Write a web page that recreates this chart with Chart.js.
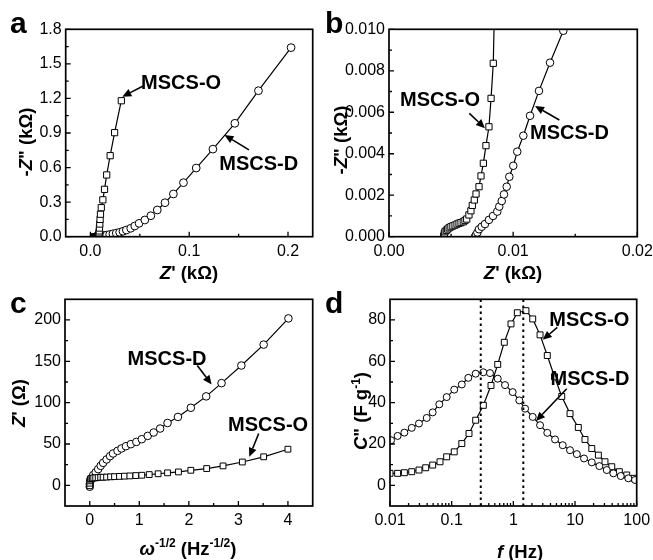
<!DOCTYPE html>
<html>
<head>
<meta charset="utf-8">
<script src="https://cdn.jsdelivr.net/npm/chart.js@4.4.0/dist/chart.umd.min.js"></script>
<style>
  body { margin: 0; background: #fff; }
  #wrap { position: relative; width: 653px; height: 560px; overflow: hidden; }
  canvas { position: absolute; }
</style>
</head>
<body>
<div id="wrap">
  <canvas id="cA" width="326" height="290" style="left:0;top:0"></canvas>
  <canvas id="cB" width="335" height="290" style="left:318px;top:0"></canvas>
  <canvas id="cC" width="326" height="280" style="left:0;top:280px"></canvas>
  <canvas id="cD" width="335" height="280" style="left:318px;top:280px"></canvas>
</div>
<script>
// Nyquist (a, b): Z' e -Z'' em kOhm
const nyqO_re = [0.00441,0.00442,0.00446,0.00451,0.00462,0.00473,0.00485,0.00499,0.00515,0.00532,0.00548,0.00564,0.00580,0.00598,0.00612,0.00626,0.00644,0.00660,0.00671,0.00687,0.00701,0.00725,0.00741,0.00760,0.00781,0.00805,0.00822,0.00840,0.0086,0.0087,0.0088,0.0090,0.0092,0.0095,0.0098,0.0102,0.0110,0.0126,0.0143,0.0165,0.0200,0.0245,0.0313];
const nyqO_im = [0,0.00004,0.00016,0.00024,0.00031,0.00037,0.00043,0.00048,0.00052,0.00056,0.00061,0.00065,0.00068,0.00072,0.00078,0.00085,0.00105,0.00125,0.00151,0.00177,0.00206,0.00241,0.00293,0.00354,0.00439,0.00530,0.00667,0.00836,0.014,0.022,0.033,0.050,0.075,0.110,0.150,0.195,0.252,0.320,0.411,0.536,0.703,0.903,1.180];
const nyqD_re = [0.00693,0.00700,0.00712,0.00725,0.00747,0.00773,0.00805,0.00838,0.00872,0.00888,0.00908,0.00926,0.00948,0.00969,0.01001,0.01033,0.01082,0.01136,0.01208,0.01297,0.01404,0.0165,0.0195,0.0228,0.0262,0.0296,0.0330,0.0364,0.0408,0.0449,0.0493,0.0551,0.0612,0.0677,0.0755,0.0840,0.0942,0.1071,0.1240,0.1462,0.1701,0.2031];
const nyqD_im = [0,0.00008,0.00020,0.00036,0.00048,0.00061,0.00081,0.00100,0.00121,0.00145,0.00172,0.00204,0.00241,0.00289,0.00342,0.00410,0.00487,0.00583,0.00703,0.00839,0.00993,0.014,0.019,0.025,0.031,0.038,0.047,0.058,0.073,0.093,0.116,0.145,0.182,0.232,0.295,0.371,0.469,0.596,0.760,0.984,1.267,1.641];

// (c): Z' (Ohm) contra w^-1/2
const warbD_w = [0,0,0.01,0.03,0.07,0.12,0.17,0.22,0.27,0.34,0.41,0.47,0.56,0.64,0.73,0.83,0.94,1.05,1.17,1.29,1.42,1.57,1.78,2.04,2.35,2.66,3.06,3.51,4.01];
const warbD_z = [-1.7,1.5,4.5,8.4,12.4,15.7,19.6,23.6,27.2,31.3,35.3,38.5,41.7,44.6,47.3,49.8,52.5,55.8,59.8,63.9,68.7,75.4,82.7,93.8,107.6,123.6,144.9,170.2,201.9];
const warbO_w = [0,0,0,0.01,0.025,0.05,0.08,0.12,0.17,0.22,0.27,0.34,0.42,0.50,0.60,0.70,0.81,0.93,1.05,1.20,1.38,1.57,1.79,2.04,2.36,2.69,3.08,3.51,4.0];
const warbO_z = [-0.5,2.6,5.4,7.4,8.2,8.6,8.9,9.1,9.4,9.7,9.8,10,10.3,10.5,10.8,11.1,11.4,11.8,12.2,13,14,15.1,16.2,18.2,20.3,23.5,28.2,34.5,43.7];

// (d): C'' (F/g) contra f (Hz)
const capD_f = [0.0104,0.0133,0.0171,0.0225,0.0295,0.0394,0.0492,0.063,0.083,0.110,0.146,0.186,0.245,0.326,0.418,0.558,0.733,0.976,1.25,1.55,2.06,2.71,3.55,4.74,6.32,8.30,10.7,14.0,18.7,24.8,32.7,41.8,55.1,73.1,93.9];
const capD_c = [21.8,23.9,25.5,27.8,29.9,32.6,35.3,39.2,42.7,46.3,48.8,52.0,54.0,54.7,54.3,51.6,48.5,45.1,41.1,37.1,33.1,29.1,25.4,22.2,19.4,17.0,15.1,13.0,11.1,9.3,7.4,5.8,4.5,3.4,2.6];
const capO_f = [0.0100,0.0133,0.0171,0.0225,0.0295,0.0379,0.0492,0.0647,0.083,0.110,0.146,0.191,0.245,0.326,0.434,0.558,0.713,0.916,1.16,1.60,2.06,2.71,3.55,4.65,6.09,8.30,11.3,14.5,18.7,23.9,30.6,39.4,52.3,68.9,90.4];
const capO_c = [5.8,5.8,6.1,6.6,7.4,8.5,9.8,11.4,13.8,16.2,20.2,25.1,31.5,38.7,48.3,58.5,69.2,78.1,83.5,84.5,80.5,72.8,62.8,52.5,43.0,34.7,28.0,22.2,17.8,14.6,11.4,9.0,6.6,5.0,3.4];
const picos = [0.296, 1.45];

// ticks
const aX = [0, 0.1, 0.2], aXLab = ['0.0', '0.1', '0.2'], aXMin = [0.05, 0.15];
const aY = [0, 0.3, 0.6, 0.9, 1.2, 1.5, 1.8], aYLab = ['0.0', '0.3', '0.6', '0.9', '1.2', '1.5', '1.8'];
const aYMin = [0.15, 0.45, 0.75, 1.05, 1.35, 1.65];
const bX = [0, 0.01, 0.02], bXLab = ['0.00', '0.01', '0.02'], bXMin = [0.005, 0.015];
const bY = [0, 0.002, 0.004, 0.006, 0.008, 0.010], bYLab = ['0.000', '0.002', '0.004', '0.006', '0.008', '0.010'];
const bYMin = [0.001, 0.003, 0.005, 0.007, 0.009];
const cX = [0, 1, 2, 3, 4], cXLab = ['0', '1', '2', '3', '4'], cXMin = [0.5, 1.5, 2.5, 3.5];
const cY = [0, 50, 100, 150, 200], cYLab = ['0', '50', '100', '150', '200'], cYMin = [25, 75, 125, 175];
const dX = [0.01, 0.1, 1, 10, 100], dXLab = ['0.01', '0.1', '1', '10', '100'];
const dXMin = [0.02,0.03,0.04,0.05,0.06,0.07,0.08,0.09,0.2,0.3,0.4,0.5,0.6,0.7,0.8,0.9,2,3,4,5,6,7,8,9,20,30,40,50,60,70,80,90];
const dY = [0, 20, 40, 60, 80], dYLab = ['0', '20', '40', '60', '80'], dYMin = [10, 30, 50, 70];

// anotações (coordenadas em unidades dos dados)
const notasA = [
  { t: 'MSCS-O', at: [0.0918, 1.339], de: [0.0534, 1.308], ate: [0.0323, 1.215] },
  { t: 'MSCS-D', at: [0.1704, 0.635], de: [0.1605, 0.753], ate: [0.1357, 0.883] }
];
const notasB = [
  { t: 'MSCS-O', at: [0.00411, 0.00664], de: [0.00647, 0.00595], ate: [0.00773, 0.00523] },
  { t: 'MSCS-D', at: [0.01454, 0.00502], de: [0.01372, 0.00563], ate: [0.01176, 0.00630] }
];
const notasC = [
  { t: 'MSCS-D', at: [1.56, 153], de: [2.17, 145], ate: [2.46, 122] },
  { t: 'MSCS-O', at: [3.60, 74], de: [3.41, 62.7], ate: [3.22, 34.5] }
];
const notasD = [
  { t: 'MSCS-O', at: [17.05, 80.1], de: [5.16, 76.4], ate: [2.99, 70.4] },
  { t: 'MSCS-D', at: [17.5, 51.6], de: [7.33, 46.7], ate: [2.33, 31.1] }
];

const FONT = "'Liberation Sans', Arial, sans-serif";

function serie(xs, ys, estilo, r) {
  return {
    data: xs.map((x, i) => ({ x: x, y: ys[i] })),
    showLine: true, borderColor: '#000', borderWidth: 1.2, tension: 0,
    pointStyle: estilo, pointRadius: r, pointHoverRadius: r, pointBorderWidth: 1,
    pointBackgroundColor: '#fff', pointBorderColor: '#000'
  };
}

function seta(ctx, x0, y0, x1, y1) {
  const ang = Math.atan2(y1 - y0, x1 - x0), L = 9, W = 4;
  const bx = x1 - L * Math.cos(ang), by = y1 - L * Math.sin(ang);
  ctx.lineWidth = 1.6;
  ctx.beginPath(); ctx.moveTo(x0, y0); ctx.lineTo(bx, by); ctx.stroke();
  ctx.beginPath(); ctx.moveTo(x1, y1);
  ctx.lineTo(bx + W * Math.sin(ang), by - W * Math.cos(ang));
  ctx.lineTo(bx - W * Math.sin(ang), by + W * Math.cos(ang));
  ctx.closePath(); ctx.fill();
}

// texto com itálico / sobrescrito
function rico(ctx, partes, cx, cy, girar) {
  ctx.save();
  ctx.translate(cx, cy);
  if (girar) ctx.rotate(-Math.PI / 2);
  const fnt = p => (p.it ? 'italic ' : '') + 'bold ' + (p.sup ? 12 : 18.5) + 'px ' + FONT;
  let w = 0;
  const ws = partes.map(p => { ctx.font = fnt(p); const m = ctx.measureText(p.t).width; w += m; return m; });
  let x = -w / 2;
  ctx.fillStyle = '#000'; ctx.textBaseline = 'alphabetic'; ctx.textAlign = 'left';
  partes.forEach((p, i) => { ctx.font = fnt(p); ctx.fillText(p.t, x, p.sup ? -1 : 6.5); x += ws[i]; });
  ctx.restore();
}

const moldura = {
  id: 'moldura',
  afterDatasetsDraw(chart, args, o) {
    const { ctx, chartArea: a } = chart;
    const x = chart.scales.x, y = chart.scales.y;
    ctx.save();
    ctx.strokeStyle = '#000'; ctx.fillStyle = '#000';
    ctx.lineWidth = 1.3;
    ctx.beginPath();
    const marca = (arr, len, horiz) => arr.forEach(v => {
      if (horiz) { const px = x.getPixelForValue(v); ctx.moveTo(px, a.bottom); ctx.lineTo(px, a.bottom - len); }
      else { const py = y.getPixelForValue(v); ctx.moveTo(a.left, py); ctx.lineTo(a.left + len, py); }
    });
    marca(o.xMaj, 5, true); marca(o.xMin, 3, true);
    marca(o.yMaj, 5, false); marca(o.yMin, 3, false);
    ctx.stroke();
    ctx.lineWidth = 1.7;
    ctx.strokeRect(a.left, a.top, a.right - a.left, a.bottom - a.top);

    ctx.font = 'bold 20px ' + FONT;
    ctx.textAlign = 'center'; ctx.textBaseline = 'middle';
    o.notas.forEach(n => {
      ctx.fillText(n.t, x.getPixelForValue(n.at[0]), y.getPixelForValue(n.at[1]) + 1);
      seta(ctx, x.getPixelForValue(n.de[0]), y.getPixelForValue(n.de[1]),
        x.getPixelForValue(n.ate[0]), y.getPixelForValue(n.ate[1]));
    });
    ctx.restore();
  },
  afterDraw(chart, args, o) {
    const ctx = chart.ctx;
    ctx.save();
    ctx.fillStyle = '#000';
    ctx.font = 'bold 30px ' + FONT;
    ctx.textBaseline = 'alphabetic'; ctx.textAlign = 'left';
    ctx.fillText(o.letra, o.letraPos[0], o.letraPos[1]);
    ctx.restore();
    rico(ctx, o.tx, o.txPos[0], o.txPos[1], false);
    rico(ctx, o.ty, o.tyPos[0], o.tyPos[1], true);
  }
};

function painel(id, p) {
  const eixo = (ticks, labs, extra) => Object.assign({
    grid: { display: false, drawTicks: false },
    border: { display: false },
    ticks: {
      color: '#000', font: { family: FONT, size: 16 }, autoSkip: false, maxRotation: 0,
      callback: (v, i) => labs[i]
    },
    afterBuildTicks: s => { s.ticks = ticks.map(v => ({ value: v })); }
  }, extra);

  const xs = eixo(p.xT, p.xL, {
    type: p.xType || 'linear', min: p.xR[0], max: p.xR[1],
    afterFit: s => { s.height = p.xH; s.paddingLeft = 0; s.paddingRight = 0; }
  });
  xs.ticks.padding = 5;
  const ys = eixo(p.yT, p.yL, {
    type: 'linear', min: p.yR[0], max: p.yR[1],
    afterFit: s => { s.width = p.yW; s.paddingTop = 0; s.paddingBottom = 0; }
  });
  ys.ticks.padding = 4;

  return new Chart(document.getElementById(id), {
    type: 'scatter',
    data: { datasets: p.sets },
    plugins: [moldura],
    options: {
      responsive: false, animation: false,
      layout: { padding: p.pad },
      scales: { x: xs, y: ys },
      plugins: {
        legend: { display: false }, tooltip: { enabled: false },
        moldura: {
          xMaj: p.xT, xMin: p.xm, yMaj: p.yT, yMin: p.ym, notas: p.notas,
          letra: p.letra, letraPos: p.letraPos,
          tx: p.tx, txPos: p.txPos, ty: p.ty, tyPos: p.tyPos
        }
      }
    }
  });
}

const tituloZkOhm = [{ t: 'Z', it: true }, { t: "' (k\u03A9)" }];
const tituloZ2kOhm = [{ t: '-' }, { t: 'Z', it: true }, { t: '" (k\u03A9)' }];

painel('cA', {
  sets: [serie(nyqO_re, nyqO_im, 'rect', 4.4), serie(nyqD_re, nyqD_im, 'circle', 3.9)],
  xR: [-0.025, 0.225], yR: [0, 1.8], xT: aX, xL: aXLab, xm: aXMin, yT: aY, yL: aYLab, ym: aYMin,
  yW: 65.7, xH: 43.3, pad: { left: 0, right: 13.3, top: 29.3, bottom: 10 },
  notas: notasA, letra: 'a', letraPos: [10, 33],
  tx: tituloZkOhm, txPos: [189, 272], ty: tituloZ2kOhm, tyPos: [25, 142]
});

painel('cB', {
  sets: [serie(nyqO_re, nyqO_im, 'rect', 4.4), serie(nyqD_re, nyqD_im, 'circle', 3.8)],
  xR: [0, 0.02], yR: [0, 0.010], xT: bX, xL: bXLab, xm: bXMin, yT: bY, yL: bYLab, ym: bYMin,
  yW: 71, xH: 43.3, pad: { left: 0, right: 15.7, top: 29.3, bottom: 10 },
  notas: notasB, letra: 'b', letraPos: [7, 33],
  tx: tituloZkOhm, txPos: [195, 272], ty: tituloZ2kOhm, tyPos: [22.7, 140]
});

painel('cC', {
  sets: [serie(warbO_w, warbO_z, 'rect', 4.1), serie(warbD_w, warbD_z, 'circle', 3.8)],
  xR: [-0.5, 4.5], yR: [-25, 225], xT: cX, xL: cXLab, xm: cXMin, yT: cY, yL: cYLab, ym: cYMin,
  yW: 65, xH: 54, pad: { left: 0, right: 13.3, top: 19.3, bottom: 0 },
  notas: notasC, letra: 'c', letraPos: [10, 33],
  tx: [{ t: '\u03C9', it: true }, { t: '-1/2', sup: true }, { t: ' (Hz' }, { t: '-1/2', sup: true }, { t: ')' }],
  txPos: [188, 268],
  ty: [{ t: 'Z', it: true }, { t: "' (\u03A9)" }], tyPos: [18, 123]
});

const tracejado = f => ({
  data: [{ x: f, y: -10 }, { x: f, y: 90 }], showLine: true, borderColor: '#000',
  borderWidth: 2, borderDash: [2.5, 3.5], pointRadius: 0, pointHoverRadius: 0
});

painel('cD', {
  sets: [tracejado(picos[0]), tracejado(picos[1]),
    serie(capD_f, capD_c, 'circle', 3.5), serie(capO_f, capO_c, 'rect', 4.2)],
  xType: 'logarithmic',
  xR: [0.01, 100], yR: [-10, 90], xT: dX, xL: dXLab, xm: dXMin, yT: dY, yL: dYLab, ym: dYMin,
  yW: 72, xH: 54, pad: { left: 0, right: 16.3, top: 19.3, bottom: 0 },
  notas: notasD, letra: 'd', letraPos: [7, 33],
  tx: [{ t: 'f', it: true }, { t: ' (Hz)' }], txPos: [202, 271],
  ty: [{ t: 'C', it: true }, { t: '" (F g' }, { t: '-1', sup: true }, { t: ')' }], tyPos: [42.7, 131]
});
</script>
</body>
</html>
